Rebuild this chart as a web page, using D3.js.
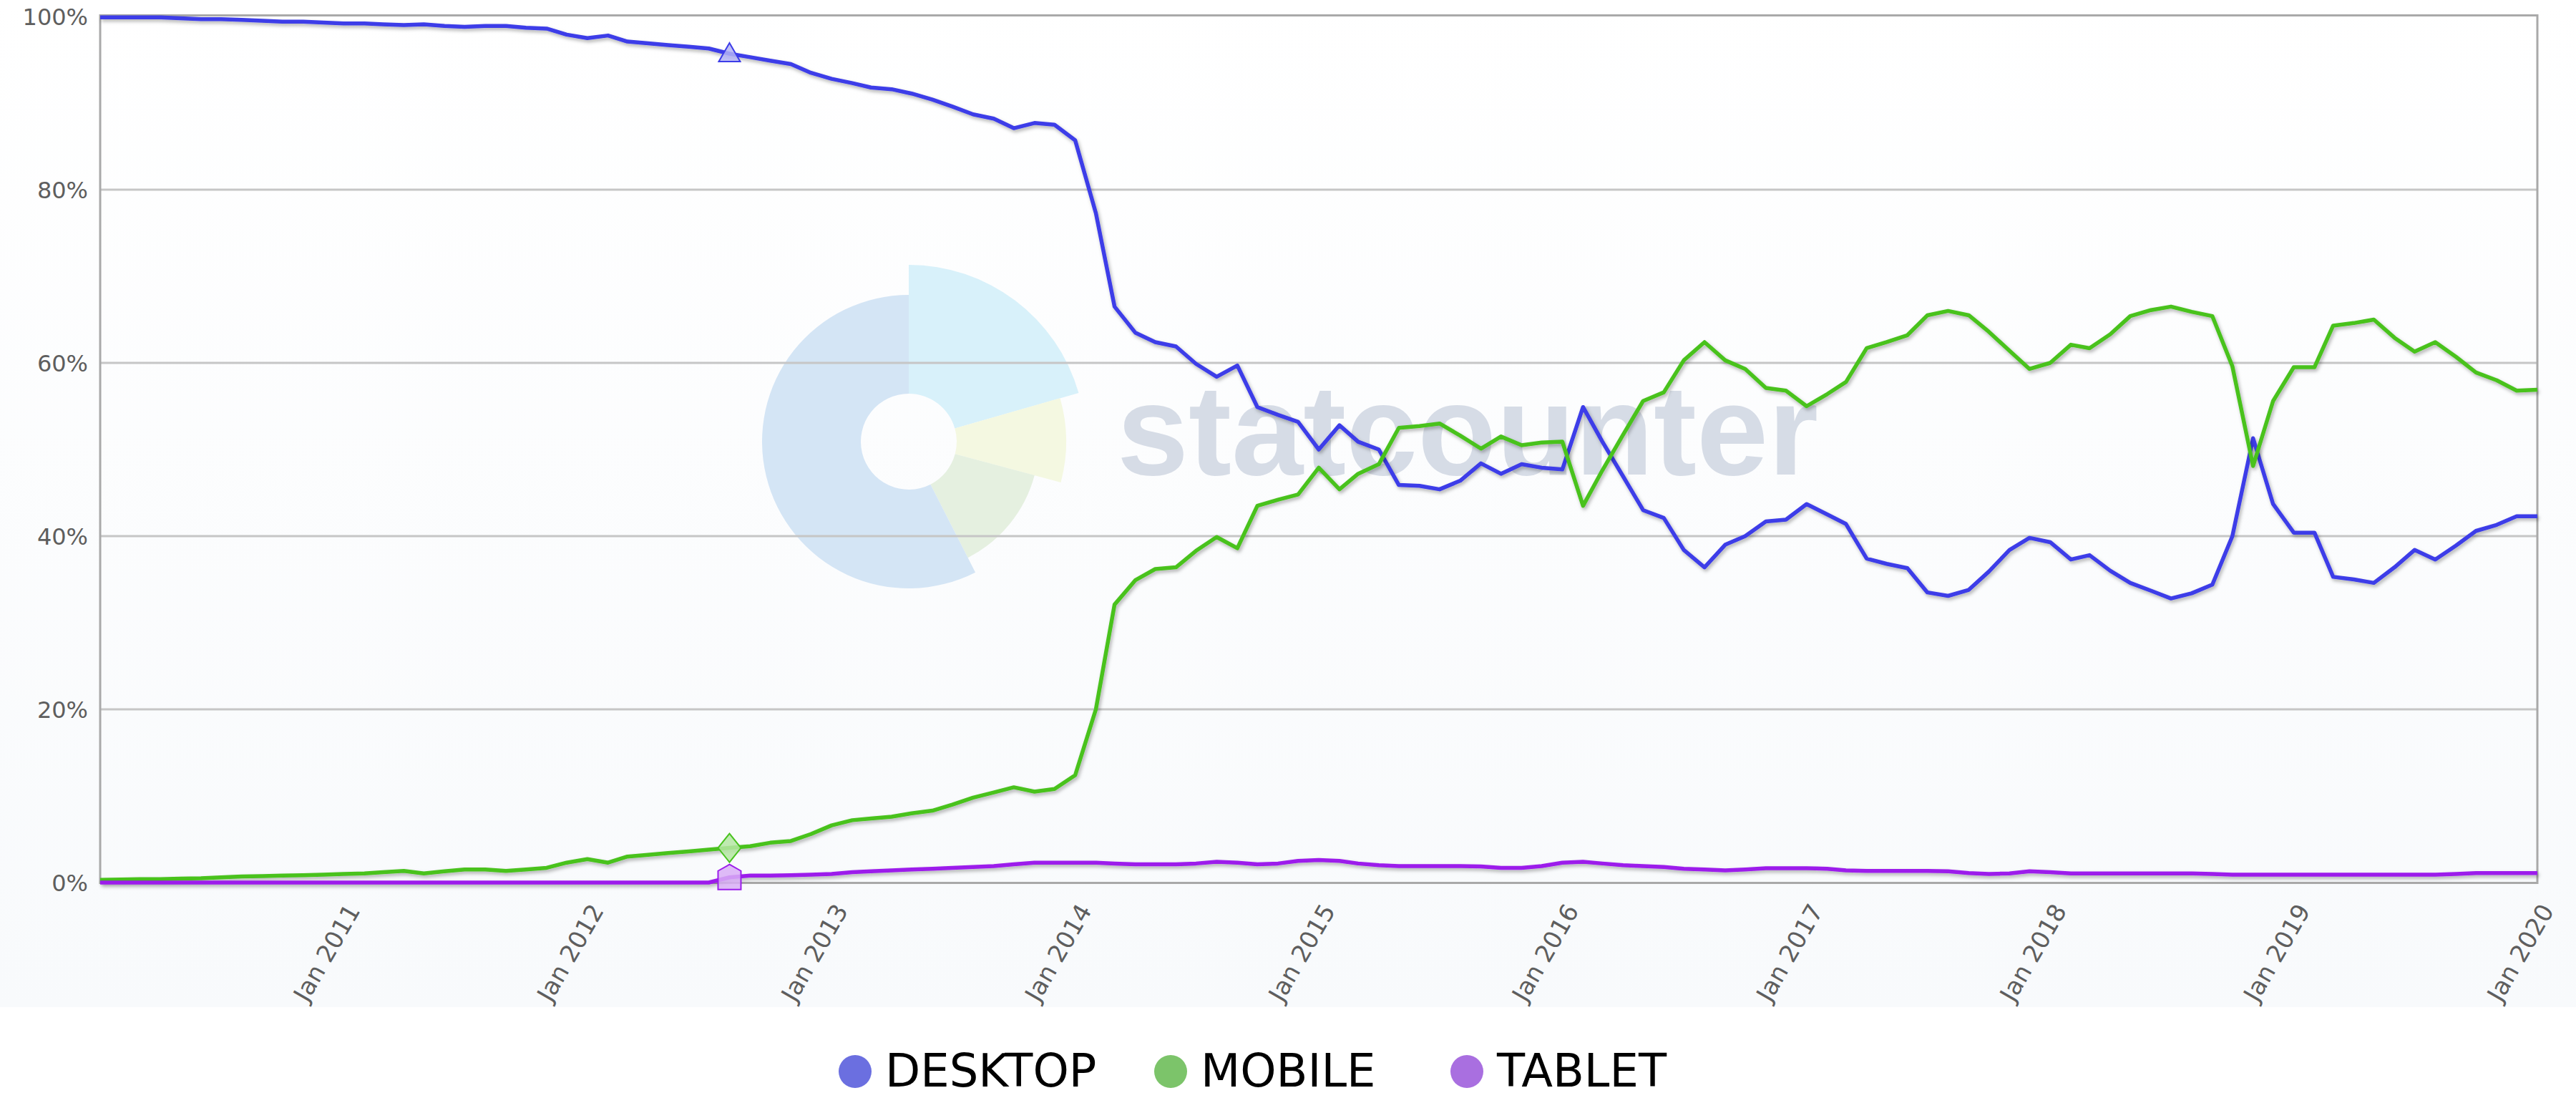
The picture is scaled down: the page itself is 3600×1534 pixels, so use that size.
<!DOCTYPE html>
<html>
<head>
<meta charset="utf-8">
<script src="https://cdn.jsdelivr.net/npm/d3@7"></script>
<style>
  html, body { margin: 0; padding: 0; background: #fff; }
  svg { display: block; }
  .axis-label { font-family: "DejaVu Sans", Verdana, sans-serif; fill: #5e5e5e; }
  .legend-text { font-family: "DejaVu Sans", Verdana, sans-serif; font-size: 64px; fill: #000; }
  .watermark { font-family: "Liberation Sans", Arial, sans-serif; font-weight: bold; fill: #d6dce6; }
</style>
</head>
<body>
<svg width="3600" height="1534"></svg>
<script>
// monthly share, Jan 2010 .. Jan 2020
const seriesNames = ["DESKTOP", "MOBILE", "TABLET"];
const lineColors = ["#3c3ce8", "#48c21f", "#9c1eeb"];
const legendColors = ["#6b6fe0", "#7cc46a", "#a96fe0"];
const yTicks = [0, 20, 40, 60, 80, 100];
const xTickYears = [2011, 2012, 2013, 2014, 2015, 2016, 2017, 2018, 2019, 2020];

const desktop = [
    99.9, 99.9, 99.9, 99.9, 99.8, 99.7, 99.7, 99.6, 99.5, 99.4, 99.4, 99.3,   // 2010
    99.2, 99.2, 99.1, 99.0, 99.1, 98.9, 98.8, 98.9, 98.9, 98.7, 98.6, 97.9,   // 2011
    97.5, 97.8, 97.1, 96.9, 96.7, 96.5, 96.3, 95.7, 95.3, 94.9, 94.5, 93.5,   // 2012
    92.8, 92.3, 91.8, 91.6, 91.1, 90.4, 89.6, 88.7, 88.2, 87.1, 87.7, 87.5,   // 2013
    85.7, 77.3, 66.5, 63.5, 62.4, 61.9, 59.9, 58.4, 59.7, 54.9, 54.0, 53.2,   // 2014
    50.0, 52.8, 50.9, 50.0, 45.9, 45.8, 45.4, 46.4, 48.4, 47.2, 48.3, 47.9,   // 2015
    47.7, 54.9, 50.9, 46.9, 43.0, 42.1, 38.4, 36.4, 39.0, 40.0, 41.7, 41.9,   // 2016
    43.7, 42.5, 41.4, 37.4, 36.8, 36.3, 33.5, 33.1, 33.8, 35.9, 38.4, 39.8,   // 2017
    39.3, 37.3, 37.8, 36.0, 34.6, 33.7, 32.8, 33.4, 34.4, 40.0, 51.3, 43.7,   // 2018
    40.4, 40.4, 35.3, 35.0, 34.6, 36.4, 38.4, 37.3, 38.9, 40.6, 41.3, 42.3,   // 2019
    42.3                                                                      // 2020
];
const mobile = [
    0.3, 0.35, 0.4, 0.4, 0.45, 0.5, 0.6, 0.7, 0.75, 0.8, 0.85, 0.9,
    1.0, 1.05, 1.2, 1.35, 1.05, 1.3, 1.5, 1.5, 1.35, 1.5, 1.7, 2.3,
    2.7, 2.3, 3.0, 3.2, 3.4, 3.6, 3.8, 4.0, 4.2, 4.6, 4.8, 5.6,
    6.6, 7.2, 7.4, 7.6, 8.0, 8.3, 9.0, 9.8, 10.4, 11.0, 10.5, 10.8,
    12.4, 20.0, 32.1, 34.9, 36.2, 36.4, 38.3, 39.9, 38.6, 43.5, 44.2, 44.8,
    47.9, 45.4, 47.2, 48.3, 52.5, 52.7, 53.0, 51.6, 50.1, 51.5, 50.5, 50.8,
    50.9, 43.5, 47.6, 51.7, 55.6, 56.6, 60.3, 62.4, 60.3, 59.3, 57.1, 56.8,
    55.0, 56.4, 57.8, 61.7, 62.4, 63.2, 65.5, 66.0, 65.5, 63.6, 61.4, 59.3,
    60.0, 62.1, 61.7, 63.3, 65.4, 66.1, 66.5, 65.9, 65.4, 59.6, 48.1, 55.6,
    59.5, 59.5, 64.3, 64.6, 65.0, 62.9, 61.3, 62.4, 60.7, 58.9, 58.0, 56.8,
    56.9
];
const tablet = [
    0, 0, 0, 0, 0, 0, 0, 0, 0, 0, 0, 0,
    0, 0, 0, 0, 0, 0, 0, 0, 0, 0, 0, 0,
    0, 0, 0, 0, 0, 0, 0, 0.6, 0.8, 0.8, 0.85, 0.9,
    1.0, 1.2, 1.3, 1.4, 1.5, 1.6, 1.7, 1.8, 1.9, 2.1, 2.3, 2.3,
    2.3, 2.3, 2.2, 2.1, 2.1, 2.1, 2.2, 2.4, 2.3, 2.1, 2.2, 2.5,
    2.6, 2.5, 2.2, 2.0, 1.9, 1.9, 1.9, 1.9, 1.85, 1.7, 1.7, 1.9,
    2.3, 2.4, 2.2, 2.0, 1.9, 1.8, 1.6, 1.5, 1.4, 1.5, 1.65, 1.65,
    1.65, 1.6, 1.4, 1.35, 1.35, 1.35, 1.35, 1.3, 1.1, 1.0, 1.05, 1.3,
    1.2, 1.05, 1.05, 1.05, 1.05, 1.05, 1.05, 1.05, 1.0, 0.9, 0.9, 0.9,
    0.9, 0.9, 0.9, 0.9, 0.9, 0.9, 0.9, 0.9, 1.0, 1.1, 1.1, 1.1,
    1.1
];
// hovered point (Aug 2012) that carries the markers
const markerIndex = 31;

const svg = d3.select("svg"),
    width = +svg.attr("width"),
    height = +svg.attr("height");

const plot = { left: 140, right: 3546, top: 23, bottom: 1233 };

const months = d3.timeMonth.range(new Date(2010, 0, 1), new Date(2020, 0, 2));

const x = d3.scaleTime()
    .domain([new Date(2010, 0, 1), new Date(2020, 0, 1)])
    .range([plot.left, plot.right]);

const y = d3.scaleLinear()
    .domain([0, 100])
    .range([plot.bottom, plot.top]);

const defs = svg.append("defs");

const bg = defs.append("linearGradient")
    .attr("id", "bg")
    .attr("x1", 0).attr("y1", 0).attr("x2", 0).attr("y2", 1);
bg.append("stop").attr("offset", "0%").attr("stop-color", "#ffffff");
bg.append("stop").attr("offset", "100%").attr("stop-color", "#f8fafc");

defs.append("filter")
    .attr("id", "shadow")
    .attr("filterUnits", "userSpaceOnUse")
    .attr("x", 0).attr("y", 0)
    .attr("width", width).attr("height", height)
    .append("feDropShadow")
    .attr("dx", 2)
    .attr("dy", 3)
    .attr("stdDeviation", 2.5)
    .attr("flood-color", "#000")
    .attr("flood-opacity", 0.3);

// chart background (legend strip stays white)
svg.append("rect")
    .attr("width", width)
    .attr("height", 1407)
    .attr("fill", "url(#bg)");

// statcounter watermark
const wm = svg.append("g").attr("transform", "translate(1270,617)");
const wedges = [
    { start: 0, end: 74, r: 247, color: "#d8f1fa" },
    { start: 74, end: 105, r: 220, color: "#f4f8e1" },
    { start: 105, end: 153, r: 182, color: "#e5f0e0" },
    { start: 153, end: 360, r: 205, color: "#d4e5f5" }
];
wm.selectAll("path")
    .data(wedges)
    .enter().append("path")
    .attr("d", d => d3.arc()
        .innerRadius(67)
        .outerRadius(d.r)
        .startAngle(d.start * Math.PI / 180)
        .endAngle(d.end * Math.PI / 180)())
    .attr("fill", d => d.color);

svg.append("text")
    .attr("class", "watermark")
    .attr("x", 1561)
    .attr("y", 663)
    .attr("font-size", 180)
    .text("statcounter");

// gridlines
svg.append("g")
    .selectAll("line")
    .data(yTicks.filter(t => t > 0 && t < 100))
    .enter().append("line")
    .attr("x1", plot.left)
    .attr("x2", plot.right)
    .attr("y1", d => y(d))
    .attr("y2", d => y(d))
    .attr("stroke", "#c6c6c6")
    .attr("stroke-width", 3);

// plot border
svg.append("rect")
    .attr("x", plot.left)
    .attr("y", plot.top - 1.5)
    .attr("width", plot.right - plot.left)
    .attr("height", plot.bottom - plot.top + 2)
    .attr("fill", "none")
    .attr("stroke", "#a9a9a9")
    .attr("stroke-width", 3);

// y labels
svg.append("g")
    .selectAll("text")
    .data(yTicks)
    .enter().append("text")
    .attr("class", "axis-label")
    .attr("x", 123)
    .attr("y", d => y(d))
    .attr("dy", "0.36em")
    .attr("text-anchor", "end")
    .attr("font-size", 32)
    .text(d => d + "%");

// x labels, rotated
svg.append("g")
    .selectAll("text")
    .data(xTickYears)
    .enter().append("text")
    .attr("class", "axis-label")
    .attr("font-size", 34)
    .attr("text-anchor", "end")
    .attr("transform", d => `translate(${x(new Date(d, 0, 1)) + 24},1272) rotate(-60)`)
    .text(d => "Jan " + d);

const series = [desktop, mobile, tablet].map((values, i) => ({
    name: seriesNames[i],
    color: lineColors[i],
    values: values
}));

const line = d3.line()
    .x((d, i) => x(months[i]))
    .y(d => y(d));

svg.append("g")
    .selectAll("path")
    .data(series)
    .enter().append("path")
    .attr("d", d => line(d.values))
    .attr("fill", "none")
    .attr("stroke", d => d.color)
    .attr("stroke-width", 5.5)
    .attr("stroke-linejoin", "round")
    .attr("filter", "url(#shadow)");

// hover markers: triangle, diamond, house
const markerShapes = [
    [[0, -15], [15, 11], [-15, 11]],
    [[0, -20], [16, 0], [0, 20], [-16, 0]],
    [[0, -18], [16, -9], [16, 17], [-16, 17], [-16, -9]]
];
const markerFills = ["#b3b3f4", "#b5e6a3", "#d9aef6"];

svg.append("g")
    .selectAll("path")
    .data(series)
    .enter().append("path")
    .attr("transform", d => `translate(${x(months[markerIndex])},${y(d.values[markerIndex])})`)
    .attr("d", (d, i) => "M" + markerShapes[i].join("L") + "Z")
    .attr("fill", (d, i) => markerFills[i])
    .attr("fill-opacity", 0.85)
    .attr("stroke", d => d.color)
    .attr("stroke-width", 2);

// legend
const legendX = [1195, 1636, 2050];
const legend = svg.append("g")
    .selectAll("g")
    .data(series)
    .enter().append("g")
    .attr("transform", (d, i) => `translate(${legendX[i]},1497)`);

legend.append("circle")
    .attr("r", 23)
    .attr("fill", (d, i) => legendColors[i]);

legend.append("text")
    .attr("class", "legend-text")
    .attr("x", 42)
    .attr("y", 21)
    .text(d => d.name);
</script>
</body>
</html>
